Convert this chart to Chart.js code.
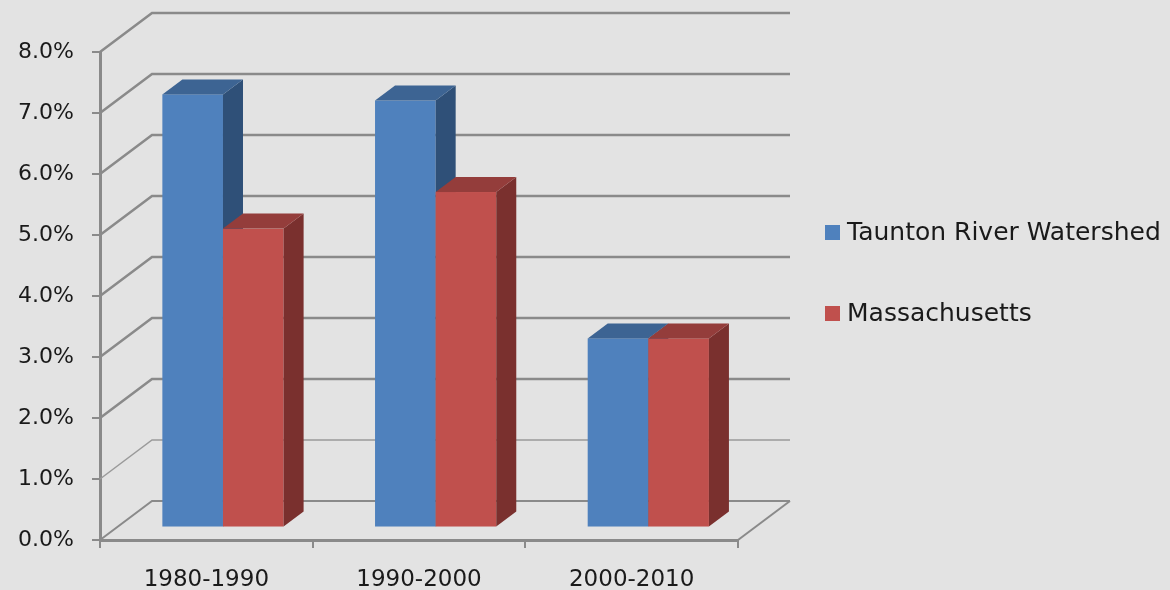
<!DOCTYPE html>
<html>
<head>
<meta charset="utf-8">
<script src="https://cdn.jsdelivr.net/npm/chart.js@4.4.1/dist/chart.umd.min.js"></script>
<style>
  html, body { margin: 0; padding: 0; background: #e3e3e3; }
  #wrap { width: 1170px; height: 590px; }
</style>
</head>
<body>
<div id="wrap"><canvas id="chart"></canvas></div>
<script>
// values (population growth, percent)
const periods = ['1980-1990', '1990-2000', '2000-2010'];
const tauntonValues = [7.1, 7.0, 3.1];
const massValues = [4.9, 5.5, 3.1];
const seriesNames = ['Taunton River Watershed', 'Massachusetts'];
const yTicks = [0, 1, 2, 3, 4, 5, 6, 7, 8];

// front / top / side shades of each series
const blueFaces = ['#4f81bd', '#3d6493', '#2f5078'];
const redFaces = ['#c0504d', '#943d3b', '#7a302e'];

const gridGrey = '#8a8a8a';
const textFont = 'DejaVu Sans';

// 3D look: back wall offset and where the bars sit in depth
const depth = { dx: 52, dy: -39 };
const barFront = 0.32;
const barDepth = 0.385;

const threeD = {
    id: 'threeD',
    beforeDatasetsDraw(chart) {
        const ctx = chart.ctx;
        const area = chart.chartArea;
        const yScale = chart.scales.y;
        ctx.save();

        // side wall diagonals + back wall gridlines
        yTicks.forEach(v => {
            const py = yScale.getPixelForValue(v);
            const thin = v === 1;
            ctx.strokeStyle = thin ? '#9a9a9a' : gridGrey;
            ctx.lineWidth = thin ? 1.5 : 2.5;
            if (v === 0) ctx.lineWidth = 2;
            ctx.beginPath();
            ctx.moveTo(area.left, py);
            ctx.lineTo(area.left + depth.dx, py + depth.dy);
            ctx.lineTo(area.right + depth.dx, py + depth.dy);
            ctx.stroke();
        });
        // floor right edge
        ctx.strokeStyle = gridGrey;
        ctx.lineWidth = 2;
        ctx.beginPath();
        ctx.moveTo(area.right, area.bottom);
        ctx.lineTo(area.right + depth.dx, area.bottom + depth.dy);
        ctx.stroke();

        // bars with top and side faces
        const ox = depth.dx * barFront, oy = depth.dy * barFront;
        const sx = depth.dx * barDepth, sy = depth.dy * barDepth;
        periods.forEach((p, j) => {
            chart.data.datasets.forEach((ds, i) => {
                const bar = chart.getDatasetMeta(i).data[j];
                const faces = ds.faces;
                const l = bar.x - bar.width / 2 + ox;
                const r = bar.x + bar.width / 2 + ox;
                const t = bar.y + oy;
                const b = bar.base + oy;

                ctx.fillStyle = faces[0];
                ctx.fillRect(l, t, r - l, b - t);

                ctx.fillStyle = faces[2];
                ctx.beginPath();
                ctx.moveTo(r, t);
                ctx.lineTo(r + sx, t + sy);
                ctx.lineTo(r + sx, b + sy);
                ctx.lineTo(r, b);
                ctx.closePath();
                ctx.fill();

                ctx.fillStyle = faces[1];
                ctx.beginPath();
                ctx.moveTo(l, t);
                ctx.lineTo(l + sx, t + sy);
                ctx.lineTo(r + sx, t + sy);
                ctx.lineTo(r, t);
                ctx.closePath();
                ctx.fill();
            });
        });
        ctx.restore();
        return false;
    },
    afterDraw(chart) {
        // legend on the right
        const ctx = chart.ctx;
        const lx = chart.chartArea.right + 87;
        const rows = [232, 313];
        ctx.save();
        ctx.font = '25px "' + textFont + '"';
        ctx.textBaseline = 'middle';
        ctx.textAlign = 'left';
        chart.data.datasets.forEach((ds, i) => {
            ctx.fillStyle = ds.backgroundColor;
            ctx.fillRect(lx, rows[i] - 7, 15, 15);
            ctx.fillStyle = '#1a1a1a';
            ctx.fillText(ds.label, lx + 22, rows[i] + 1);
        });
        ctx.restore();
    }
};

const ctx = document.getElementById('chart').getContext('2d');
const myChart = new Chart(ctx, {
    type: 'bar',
    data: {
        labels: periods,
        datasets: [{
            label: seriesNames[0],
            data: tauntonValues,
            backgroundColor: blueFaces[0],
            faces: blueFaces
        }, {
            label: seriesNames[1],
            data: massValues,
            backgroundColor: redFaces[0],
            faces: redFaces
        }]
    },
    options: {
        responsive: true,
        maintainAspectRatio: false,
        animation: false,
        categoryPercentage: 0.57,
        barPercentage: 1,
        layout: { padding: { top: 52, right: 432, left: 0, bottom: 0 } },
        plugins: {
            legend: { display: false },
            tooltip: { enabled: false }
        },
        scales: {
            x: {
                grid: { drawOnChartArea: false, tickLength: 8, color: gridGrey, lineWidth: 2 },
                border: { color: gridGrey, width: 3 },
                ticks: { font: { family: textFont, size: 23 }, color: '#1a1a1a', padding: 18 },
                afterFit(scale) { scale.height = 50; }
            },
            y: {
                min: 0,
                max: 8,
                grid: { drawOnChartArea: false, tickLength: 8, color: gridGrey, lineWidth: 2 },
                border: { color: gridGrey, width: 3 },
                ticks: {
                    stepSize: 1,
                    font: { family: textFont, size: 22 },
                    color: '#1a1a1a',
                    padding: 18,
                    callback: v => v.toFixed(1) + '%'
                },
                afterFit(scale) { scale.width = 100; }
            }
        }
    },
    plugins: [threeD]
});
</script>
</body>
</html>
